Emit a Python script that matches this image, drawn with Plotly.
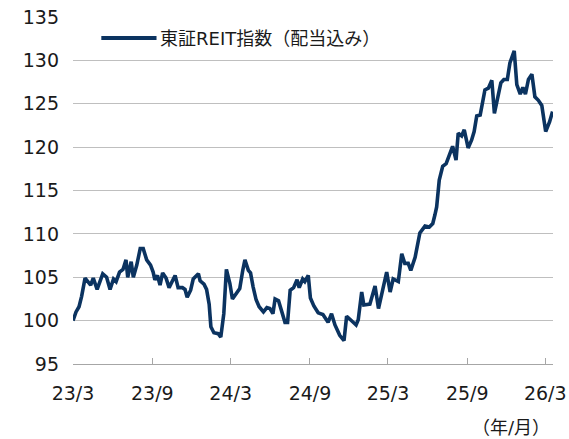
import plotly.graph_objects as go

series_name = "東証REIT指数（配当込み）"

dates = [
    "2023-03-01", "2023-03-08", "2023-03-15", "2023-03-21", "2023-03-29", "2023-04-05", "2023-04-11", "2023-04-17",
    "2023-04-26", "2023-05-09", "2023-05-18", "2023-05-26", "2023-06-03", "2023-06-09", "2023-06-17", "2023-06-25",
    "2023-07-02", "2023-07-06", "2023-07-14", "2023-07-19", "2023-07-27", "2023-08-04", "2023-08-11", "2023-08-19",
    "2023-08-28", "2023-09-03", "2023-09-07", "2023-09-13", "2023-09-19", "2023-09-25", "2023-10-03", "2023-10-10",
    "2023-10-16", "2023-10-24", "2023-10-31", "2023-11-10", "2023-11-16", "2023-11-21", "2023-11-29", "2023-12-05",
    "2023-12-17", "2023-12-21", "2023-12-30", "2024-01-05", "2024-01-11", "2024-01-15", "2024-01-22", "2024-01-28",
    "2024-02-01", "2024-02-07", "2024-02-14", "2024-02-20", "2024-02-28", "2024-03-05", "2024-03-15", "2024-03-22",
    "2024-03-29", "2024-04-03", "2024-04-11", "2024-04-16", "2024-04-22", "2024-04-29", "2024-05-06", "2024-05-16",
    "2024-05-24", "2024-05-31", "2024-06-07", "2024-06-12", "2024-06-20", "2024-06-28", "2024-07-05", "2024-07-11",
    "2024-07-17", "2024-07-25", "2024-08-02", "2024-08-07", "2024-08-15", "2024-08-20", "2024-08-28", "2024-09-02",
    "2024-09-10", "2024-09-20", "2024-10-01", "2024-10-13", "2024-10-21", "2024-10-29", "2024-11-09", "2024-11-19",
    "2024-11-25", "2024-12-04", "2024-12-17", "2024-12-22", "2024-12-30", "2025-01-04", "2025-01-18", "2025-01-30",
    "2025-02-07", "2025-02-17", "2025-02-26", "2025-03-06", "2025-03-13", "2025-03-25", "2025-04-02", "2025-04-09",
    "2025-04-17", "2025-04-23", "2025-05-03", "2025-05-14", "2025-05-26", "2025-06-05", "2025-06-13", "2025-06-18",
    "2025-06-22", "2025-06-28", "2025-07-06", "2025-07-14", "2025-07-23", "2025-07-29", "2025-08-06", "2025-08-11",
    "2025-08-19", "2025-08-25", "2025-09-03", "2025-09-11", "2025-09-17", "2025-09-23", "2025-10-01", "2025-10-07",
    "2025-10-12", "2025-10-20", "2025-10-28", "2025-11-03", "2025-11-12", "2025-11-18", "2025-11-25", "2025-12-03",
    "2025-12-09", "2025-12-19", "2025-12-25", "2026-01-02", "2026-01-08", "2026-01-14", "2026-01-21", "2026-01-29",
    "2026-02-05", "2026-02-13", "2026-02-21", "2026-03-02", "2026-03-11", "2026-03-18",
]

values = [
    100.0, 101.0, 101.6, 102.8, 104.9, 104.5, 104.1, 104.9,
    103.6, 105.4, 105.0, 103.6, 104.8, 104.5, 105.6, 105.9,
    107.0, 105.0, 106.8, 105.0, 106.4, 108.3, 108.3, 107.0,
    106.4, 105.6, 104.7, 105.2, 104.1, 105.5, 104.9, 103.8,
    104.5, 105.2, 103.8, 103.8, 103.6, 102.7, 103.5, 104.8,
    105.4, 104.6, 104.2, 103.6, 101.9, 99.3, 98.6, 98.5,
    98.5, 98.1, 100.8, 105.9, 104.3, 102.5, 103.2, 103.7,
    105.8, 107.0, 105.8, 105.5, 103.9, 102.4, 101.6, 101.0,
    101.5, 101.4, 100.8, 102.5, 102.3, 100.8, 99.8, 99.8,
    103.5, 103.8, 104.7, 103.8, 104.8, 104.5, 105.2, 102.6,
    101.7, 100.9, 100.7, 99.8, 100.8, 99.5, 98.3, 97.7,
    100.5, 100.1, 99.5, 100.1, 103.3, 101.8, 101.9, 104.0,
    101.4, 103.6, 105.6, 103.3, 104.8, 104.5, 107.7, 106.6,
    106.6, 105.8, 107.3, 110.1, 110.9, 110.8, 111.2, 112.2,
    113.1, 116.2, 117.8, 118.1, 119.5, 120.1, 118.5, 121.6,
    121.3, 122.0, 119.9, 120.8, 121.8, 123.6, 123.7, 125.1,
    126.6, 126.8, 127.7, 123.9, 125.8, 127.4, 127.8, 127.8,
    129.7, 131.1, 127.2, 126.1, 126.9, 126.1, 127.8, 128.4,
    125.8, 125.4, 124.8, 121.8, 122.9, 124.1,
]

x_tick_vals = ["2023-03-01", "2023-09-01", "2024-03-01", "2024-09-01",
               "2025-03-01", "2025-09-01", "2026-03-01"]
x_tick_text = ["23/3", "23/9", "24/3", "24/9", "25/3", "25/9", "26/3"]
y_tick_vals = [95, 100, 105, 110, 115, 120, 125, 130, 135]
x_unit_label = "（年/月）"

NAVY = "#0b3360"
GRID = "#bfbfbf"
FONT = "DejaVu Sans, Noto Sans CJK JP, sans-serif"

fig = go.Figure()
fig.add_trace(go.Scatter(
    x=dates, y=values, mode="lines", name=series_name,
    line=dict(color=NAVY, width=3.6, shape="linear"),
    showlegend=False, hoverinfo="skip",
))

fig.update_layout(
    width=569, height=439,
    margin=dict(l=73, r=16, t=17, b=75),
    paper_bgcolor="white", plot_bgcolor="white",
    font=dict(family=FONT, size=19, color="#1a1a1a"),
    showlegend=False,
)

fig.update_xaxes(
    type="date",
    range=["2023-03-01", "2026-03-19"],
    tickvals=x_tick_vals, ticktext=x_tick_text,
    ticks="inside", ticklen=6, tickcolor="#a6a6a6", tickwidth=1,
    showline=True, linecolor="#a6a6a6", linewidth=1,
    showgrid=False, zeroline=False, automargin=False,
    ticklabelstandoff=12,
    tickfont=dict(size=19),
)
fig.update_yaxes(
    range=[95, 135],
    tickvals=y_tick_vals,
    showgrid=True, gridcolor=GRID, gridwidth=1,
    showline=False, zeroline=False, ticks="", automargin=False,
    ticklabelstandoff=13,
    tickfont=dict(size=19),
)

# legend swatch + label
fig.add_shape(type="line", xref="paper", yref="paper",
              x0=0.059, x1=0.174, y0=0.9395, y1=0.9395,
              line=dict(color=NAVY, width=4))
fig.add_annotation(text=series_name, xref="paper", yref="paper",
                   x=0.177, y=0.937, xanchor="left", yanchor="middle",
                   showarrow=False, font=dict(size=18, color="#1a1a1a"))
fig.add_annotation(text=x_unit_label, xref="paper", yref="paper",
                   x=0.9135, y=-0.184, xanchor="center", yanchor="middle",
                   showarrow=False, font=dict(size=18, color="#1a1a1a"))

# remove the browser's default 8px body margin so the figure sits at the page origin
fig.write_html("out.html", config={"displayModeBar": False},
               post_script="document.body.style.margin='0px';")
